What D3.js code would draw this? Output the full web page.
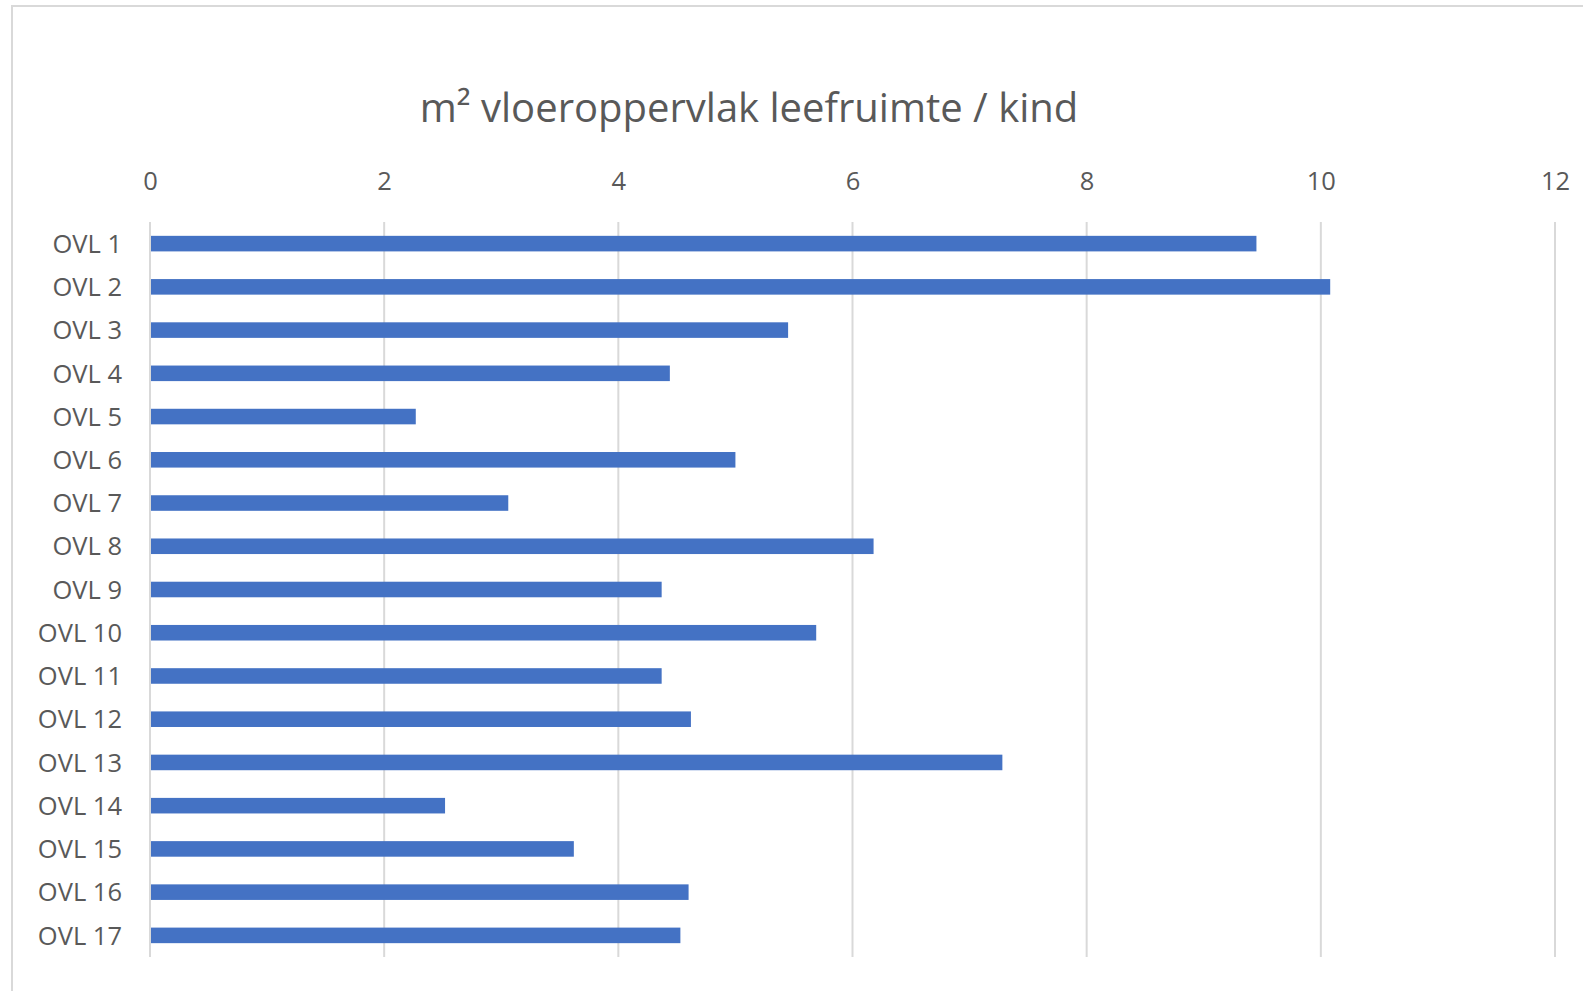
<!DOCTYPE html>
<html lang="nl">
<head>
    <meta charset="utf-8">
    <title>m² vloeroppervlak leefruimte / kind</title>
    <style>
        body {
            margin: 0;
            background: #fff;
        }

        text {
            font-family: "Open Sans", "Noto Sans", sans-serif;
            fill: #595959;
        }

        .grid line {
            stroke: #d9d9d9;
            stroke-width: 2;
        }

        .bar {
            fill: #4472c4;
        }
    </style>
    <script src="https://cdn.jsdelivr.net/npm/d3@7"></script>
</head>

<body>
    <svg class="chart" width="1583" height="991"></svg>
    <script>
        // data
        const categories = ['OVL 1', 'OVL 2', 'OVL 3', 'OVL 4', 'OVL 5', 'OVL 6', 'OVL 7', 'OVL 8', 'OVL 9',
            'OVL 10', 'OVL 11', 'OVL 12', 'OVL 13', 'OVL 14', 'OVL 15', 'OVL 16', 'OVL 17']
        const values = [9.45, 10.08, 5.45, 4.44, 2.27, 5.0, 3.06, 6.18, 4.37, 5.69, 4.37, 4.62, 7.28, 2.52, 3.62, 4.6, 4.53]
        const xTicks = [0, 2, 4, 6, 8, 10, 12]
        const title = 'm² vloeroppervlak leefruimte / kind'

        const rows = categories.map((c, i) => ({ name: c, value: values[i] }))

        const svg = d3.select('.chart')

        // chart frame (cut off at right and bottom like the screenshot)
        svg.append('rect')
            .attr('x', 12).attr('y', 6)
            .attr('width', 1600).attr('height', 1000)
            .attr('fill', 'none')
            .attr('stroke', '#d9d9d9')
            .attr('stroke-width', 2)

        const plotL = 150, plotR = 1555, plotT = 222, plotB = 957

        const x = d3.scaleLinear().domain([0, 12]).range([plotL, plotR])
        const y = d3.scaleBand().domain(categories).range([plotT, plotB]).paddingInner(0.64).paddingOuter(0.32)

        // vertical gridlines
        svg.append('g').attr('class', 'grid')
            .selectAll('line')
            .data(xTicks)
            .join('line')
            .attr('x1', d => x(d)).attr('x2', d => x(d))
            .attr('y1', plotT).attr('y2', plotB)

        // top axis labels
        const xAxis = d3.axisTop(x).tickValues(xTicks).tickSize(0).tickPadding(0)
        const gx = svg.append('g')
            .attr('transform', `translate(0,${plotT - 32})`)
            .call(xAxis)
        gx.select('.domain').remove()
        gx.attr('font-family', null).attr('font-size', null)
        gx.selectAll('text')
            .attr('font-size', 25.5)
            .attr('fill', '#595959')

        // category labels
        const yAxis = d3.axisLeft(y).tickSize(0).tickPadding(0)
        const gy = svg.append('g')
            .attr('transform', `translate(${plotL - 28},0)`)
            .call(yAxis)
        gy.select('.domain').remove()
        gy.attr('font-family', null).attr('font-size', null)
        gy.selectAll('text')
            .attr('font-size', 25.5)
            .attr('fill', '#595959')
            .attr('dy', '0.36em')

        // bars
        svg.append('g')
            .selectAll('rect')
            .data(rows)
            .join('rect')
            .attr('class', 'bar')
            .attr('x', x(0) + 1)
            .attr('y', d => y(d.name))
            .attr('width', d => x(d.value) - x(0) - 1)
            .attr('height', y.bandwidth())

        svg.append('text')
            .attr('x', 749)
            .attr('y', 122)
            .attr('text-anchor', 'middle')
            .attr('font-size', 40)
            .text(title)
    </script>
</body>

</html>
